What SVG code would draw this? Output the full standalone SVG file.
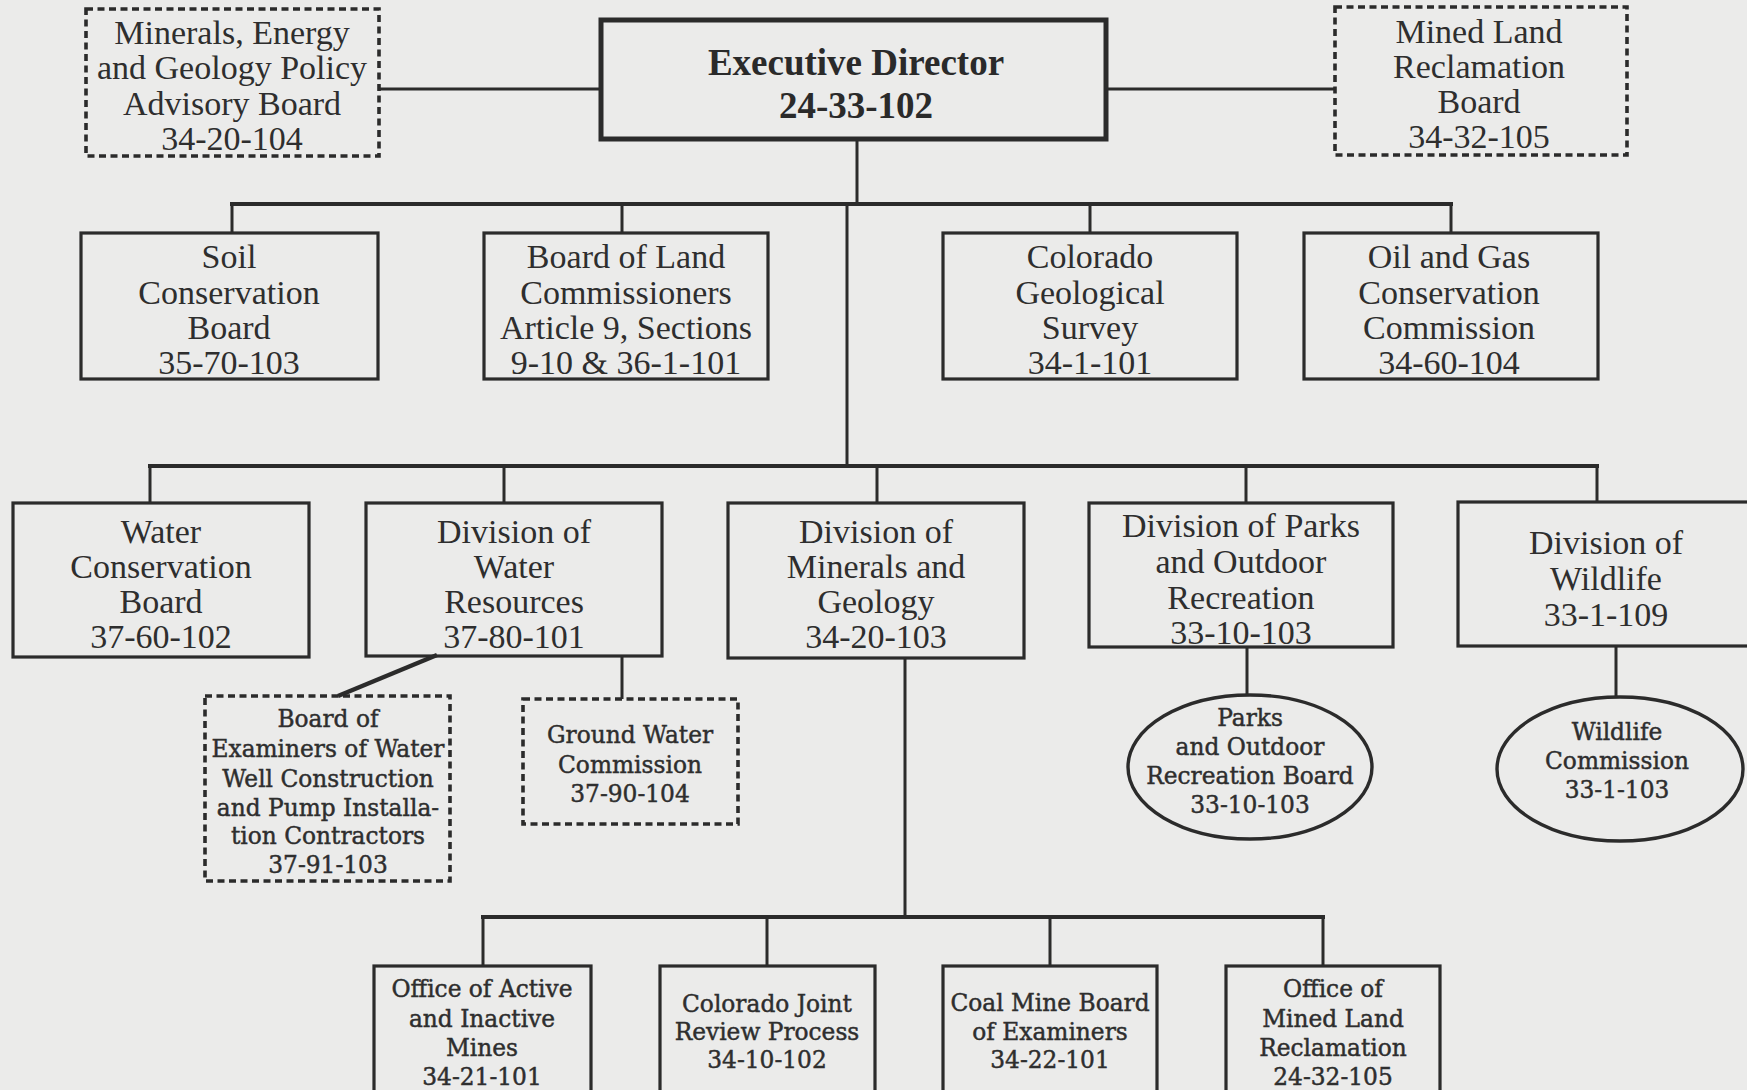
<svg xmlns="http://www.w3.org/2000/svg" width="1747" height="1090" viewBox="0 0 1747 1090">
<style>
.bg{fill:#ebebea}
.box{fill:none;stroke:#2b2b2b;stroke-width:3.2}
.exec{fill:none;stroke:#2b2b2b;stroke-width:5}
.dash{fill:none;stroke:#2b2b2b;stroke-width:3.6;stroke-dasharray:7 4.5}
.ell{fill:none;stroke:#2b2b2b;stroke-width:3.4}
.ln{fill:none;stroke:#2b2b2b;stroke-width:3}
.bus{fill:none;stroke:#2b2b2b;stroke-width:4.2}
.t{font-family:"Liberation Serif","Times New Roman",serif;font-size:34px;fill:#2e2e2e;text-anchor:middle}
.tb{font-family:"Liberation Serif","Times New Roman",serif;font-size:37px;font-weight:bold;fill:#2a2a2a;text-anchor:middle}
.s{font-family:"DejaVu Serif","Liberation Serif",serif;font-size:23.3px;fill:#2e2e2e;stroke:#2e2e2e;stroke-width:0.45;text-anchor:middle}
</style>
<rect class="bg" x="0" y="0" width="1747" height="1090"/>

<g id="connectors">
  <line class="ln" x1="379" y1="89" x2="601" y2="89"/>
  <line class="ln" x1="1106" y1="89" x2="1335" y2="89"/>
  <line class="ln" x1="857" y1="139" x2="857" y2="204"/>
  <line class="bus" x1="230" y1="204" x2="1453" y2="204"/>
  <line class="ln" x1="232" y1="204" x2="232" y2="233"/>
  <line class="ln" x1="622" y1="204" x2="622" y2="233"/>
  <line class="ln" x1="1090" y1="204" x2="1090" y2="233"/>
  <line class="ln" x1="1451" y1="204" x2="1451" y2="233"/>
  <line class="ln" x1="847" y1="204" x2="847" y2="466"/>
  <line class="bus" x1="148" y1="466" x2="1599" y2="466"/>
  <line class="ln" x1="150" y1="466" x2="150" y2="503"/>
  <line class="ln" x1="504" y1="466" x2="504" y2="503"/>
  <line class="ln" x1="877" y1="466" x2="877" y2="503"/>
  <line class="ln" x1="1246" y1="466" x2="1246" y2="503"/>
  <line class="ln" x1="1597" y1="466" x2="1597" y2="502"/>
  <line class="ln" x1="437" y1="655" x2="338" y2="696" style="stroke-width:4.5"/>
  <line class="ln" x1="622" y1="656" x2="622" y2="699"/>
  <line class="ln" x1="1247" y1="647" x2="1247" y2="695"/>
  <line class="ln" x1="1616" y1="646" x2="1616" y2="697"/>
  <line class="ln" x1="905" y1="657" x2="905" y2="917"/>
  <line class="bus" x1="481" y1="917" x2="1325" y2="917"/>
  <line class="ln" x1="483" y1="917" x2="483" y2="966"/>
  <line class="ln" x1="767" y1="917" x2="767" y2="966"/>
  <line class="ln" x1="1050" y1="917" x2="1050" y2="966"/>
  <line class="ln" x1="1323" y1="917" x2="1323" y2="966"/>
</g>

<g id="minerals-energy-board">
  <rect class="dash" x="86" y="9" width="293" height="147"/>
  <text class="t" x="232" y="44">Minerals, Energy</text>
  <text class="t" x="232" y="79">and Geology Policy</text>
  <text class="t" x="232" y="115">Advisory Board</text>
  <text class="t" x="232" y="150">34-20-104</text>
</g>
<g id="executive-director">
  <rect class="exec" x="601" y="20" width="505" height="119"/>
  <text class="tb" x="856" y="75">Executive Director</text>
  <text class="tb" x="856" y="118">24-33-102</text>
</g>
<g id="mined-land-board">
  <rect class="dash" x="1335" y="7" width="292" height="148"/>
  <text class="t" x="1479" y="43">Mined Land</text>
  <text class="t" x="1479" y="78">Reclamation</text>
  <text class="t" x="1479" y="113">Board</text>
  <text class="t" x="1479" y="148">34-32-105</text>
</g>

<g id="soil-conservation">
  <rect class="box" x="81" y="233" width="297" height="146"/>
  <text class="t" x="229" y="268">Soil</text>
  <text class="t" x="229" y="304">Conservation</text>
  <text class="t" x="229" y="339">Board</text>
  <text class="t" x="229" y="374">35-70-103</text>
</g>
<g id="board-land">
  <rect class="box" x="484" y="233" width="284" height="146"/>
  <text class="t" x="626" y="268">Board of Land</text>
  <text class="t" x="626" y="304">Commissioners</text>
  <text class="t" x="626" y="339">Article 9, Sections</text>
  <text class="t" x="626" y="374">9-10 &amp; 36-1-101</text>
</g>
<g id="colorado-geological">
  <rect class="box" x="943" y="233" width="294" height="146"/>
  <text class="t" x="1090" y="268">Colorado</text>
  <text class="t" x="1090" y="304">Geological</text>
  <text class="t" x="1090" y="339">Survey</text>
  <text class="t" x="1090" y="374">34-1-101</text>
</g>
<g id="oil-gas">
  <rect class="box" x="1304" y="233" width="294" height="146"/>
  <text class="t" x="1449" y="268">Oil and Gas</text>
  <text class="t" x="1449" y="304">Conservation</text>
  <text class="t" x="1449" y="339">Commission</text>
  <text class="t" x="1449" y="374">34-60-104</text>
</g>

<g id="water-conservation">
  <rect class="box" x="13" y="503" width="296" height="154"/>
  <text class="t" x="161" y="543">Water</text>
  <text class="t" x="161" y="578">Conservation</text>
  <text class="t" x="161" y="613">Board</text>
  <text class="t" x="161" y="648">37-60-102</text>
</g>
<g id="water-resources">
  <rect class="box" x="366" y="503" width="296" height="153"/>
  <text class="t" x="514" y="543">Division of</text>
  <text class="t" x="514" y="578">Water</text>
  <text class="t" x="514" y="613">Resources</text>
  <text class="t" x="514" y="648">37-80-101</text>
</g>
<g id="minerals-geology">
  <rect class="box" x="728" y="503" width="296" height="155"/>
  <text class="t" x="876" y="543">Division of</text>
  <text class="t" x="876" y="578">Minerals and</text>
  <text class="t" x="876" y="613">Geology</text>
  <text class="t" x="876" y="648">34-20-103</text>
</g>
<g id="parks-division">
  <rect class="box" x="1089" y="503" width="304" height="144"/>
  <text class="t" x="1241" y="537">Division of Parks</text>
  <text class="t" x="1241" y="573">and Outdoor</text>
  <text class="t" x="1241" y="609">Recreation</text>
  <text class="t" x="1241" y="644">33-10-103</text>
</g>
<g id="wildlife-division">
  <rect class="box" x="1458" y="502" width="300" height="144"/>
  <text class="t" x="1606" y="554">Division of</text>
  <text class="t" x="1606" y="590">Wildlife</text>
  <text class="t" x="1606" y="626">33-1-109</text>
</g>

<g id="well-examiners-board">
  <rect class="dash" x="205" y="696" width="245" height="185"/>
  <text class="s" x="328" y="727">Board of</text>
  <text class="s" x="328" y="757">Examiners of Water</text>
  <text class="s" x="328" y="787">Well Construction</text>
  <text class="s" x="328" y="816">and Pump Installa-</text>
  <text class="s" x="328" y="844">tion Contractors</text>
  <text class="s" x="328" y="873">37-91-103</text>
</g>
<g id="ground-water">
  <rect class="dash" x="523" y="699" width="215" height="125"/>
  <text class="s" x="630" y="743">Ground Water</text>
  <text class="s" x="630" y="773">Commission</text>
  <text class="s" x="630" y="802">37-90-104</text>
</g>
<g id="parks-board">
  <ellipse class="ell" cx="1250" cy="767" rx="122" ry="72"/>
  <text class="s" x="1250" y="726">Parks</text>
  <text class="s" x="1250" y="755">and Outdoor</text>
  <text class="s" x="1250" y="784">Recreation Board</text>
  <text class="s" x="1250" y="813">33-10-103</text>
</g>
<g id="wildlife-commission">
  <ellipse class="ell" cx="1620" cy="769" rx="123" ry="72"/>
  <text class="s" x="1617" y="740">Wildlife</text>
  <text class="s" x="1617" y="769">Commission</text>
  <text class="s" x="1617" y="798">33-1-103</text>
</g>

<g id="active-inactive-mines">
  <rect class="box" x="374" y="966" width="217" height="140"/>
  <text class="s" x="482" y="997">Office of Active</text>
  <text class="s" x="482" y="1027">and Inactive</text>
  <text class="s" x="482" y="1056">Mines</text>
  <text class="s" x="482" y="1085">34-21-101</text>
</g>
<g id="joint-review">
  <rect class="box" x="660" y="966" width="215" height="140"/>
  <text class="s" x="767" y="1012">Colorado Joint</text>
  <text class="s" x="767" y="1040">Review Process</text>
  <text class="s" x="767" y="1068">34-10-102</text>
</g>
<g id="coal-mine-board">
  <rect class="box" x="943" y="966" width="214" height="140"/>
  <text class="s" x="1050" y="1011">Coal Mine Board</text>
  <text class="s" x="1050" y="1040">of Examiners</text>
  <text class="s" x="1050" y="1068">34-22-101</text>
</g>
<g id="mined-land-office">
  <rect class="box" x="1226" y="966" width="214" height="140"/>
  <text class="s" x="1333" y="997">Office of</text>
  <text class="s" x="1333" y="1027">Mined Land</text>
  <text class="s" x="1333" y="1056">Reclamation</text>
  <text class="s" x="1333" y="1085">24-32-105</text>
</g>
</svg>
